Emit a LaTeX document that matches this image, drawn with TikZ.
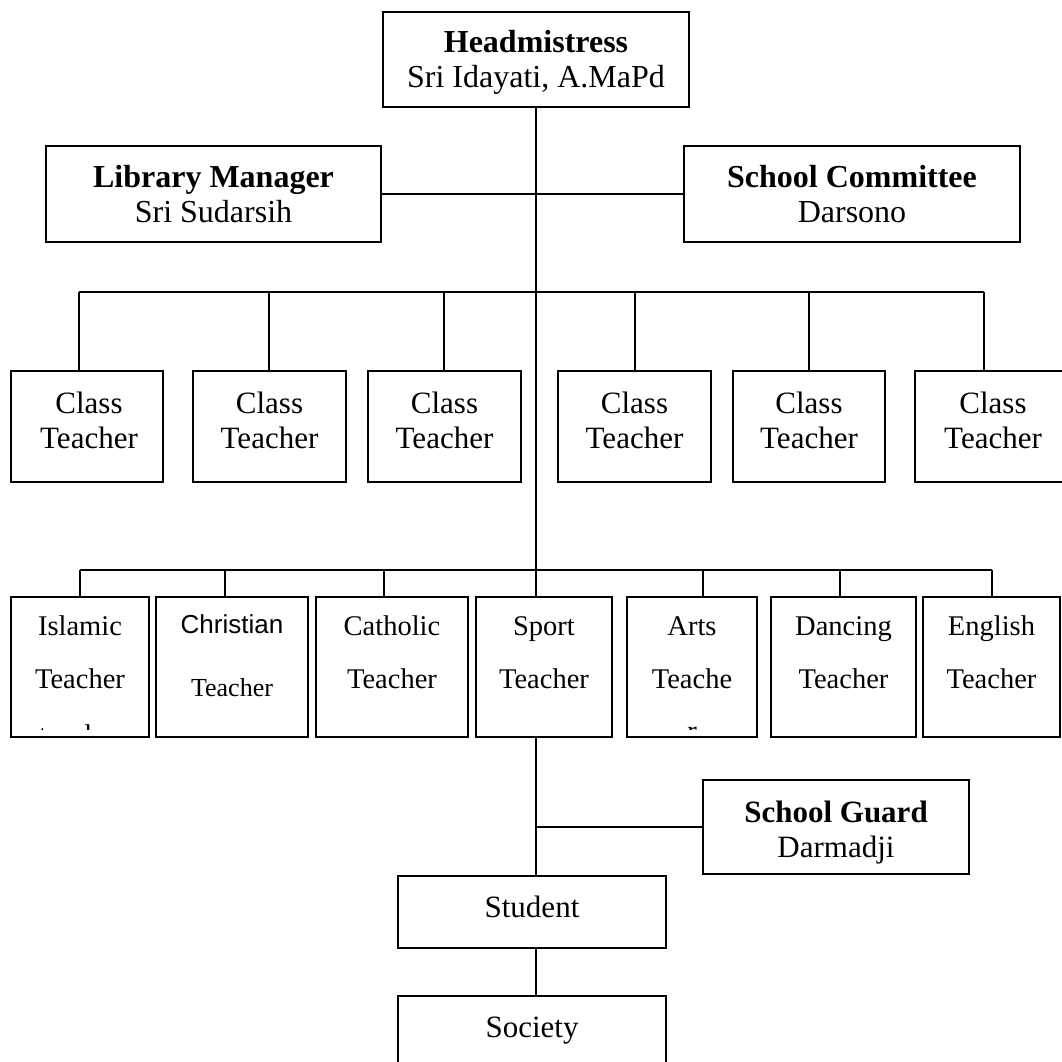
\documentclass[tikz,border=0pt]{standalone}
\usepackage{fontspec}
\setmainfont{Liberation Serif}
\newfontfamily\arialfont{Liberation Sans}
\begin{document}
\begin{tikzpicture}[x=1pt,y=-1pt,
  box/.style={draw,line width=1.6pt,inner sep=0pt,outer sep=0pt},
  conn/.style={draw,line width=1.3pt},
  tA/.style={anchor=base,inner sep=0pt,font=\fontsize{32}{38}\selectfont},
  tAb/.style={anchor=base,inner sep=0pt,font=\fontsize{32}{38}\selectfont\bfseries},
  tB/.style={anchor=base,inner sep=0pt,font=\fontsize{31}{37}\selectfont},
  tBb/.style={anchor=base,inner sep=0pt,font=\fontsize{31}{37}\selectfont\bfseries},
  tC/.style={anchor=base,inner sep=0pt,font=\fontsize{28.5}{34}\selectfont},
  tD/.style={anchor=base,inner sep=0pt,font=\fontsize{26}{31}\selectfont},
  tDs/.style={anchor=base,inner sep=0pt,font=\fontsize{26}{31}\selectfont\arialfont},
]
\useasboundingbox (0,0) rectangle (1062,1062);
\clip (0,0) rectangle (1062,1062);
\fill[white] (0,0) rectangle (1062,1062);

% boxes
\node[box,minimum width=306pt,minimum height=95pt] (head) at (536,59.5) {};
\node[box,minimum width=335pt,minimum height=96pt] (lib) at (213.5,194) {};
\node[box,minimum width=336pt,minimum height=96pt] (com) at (852,194) {};

\node[box,minimum width=152pt,minimum height=111pt] (c1) at (87,426.5) {};
\node[box,minimum width=153pt,minimum height=111pt] (c2) at (269.5,426.5) {};
\node[box,minimum width=153pt,minimum height=111pt] (c3) at (444.5,426.5) {};
\node[box,minimum width=153pt,minimum height=111pt] (c4) at (634.5,426.5) {};
\node[box,minimum width=152pt,minimum height=111pt] (c5) at (809,426.5) {};
\node[box,minimum width=156pt,minimum height=111pt] (c6) at (993,426.5) {};

\node[box,minimum width=138pt,minimum height=140pt] (r1) at (80,667) {};
\node[box,minimum width=152pt,minimum height=140pt] (r2) at (232,667) {};
\node[box,minimum width=152pt,minimum height=140pt] (r3) at (392,667) {};
\node[box,minimum width=136pt,minimum height=140pt] (r4) at (544,667) {};
\node[box,minimum width=130pt,minimum height=140pt] (r5) at (692,667) {};
\node[box,minimum width=145pt,minimum height=140pt] (r6) at (843.5,667) {};
\node[box,minimum width=137pt,minimum height=140pt] (r7) at (991.5,667) {};

\node[box,minimum width=266pt,minimum height=94pt] (guard) at (836,827) {};
\node[box,minimum width=268pt,minimum height=72pt] (stu) at (532,912) {};
\node[box,minimum width=268pt,minimum height=72pt] (soc) at (532,1032) {};

% connectors
\coordinate (mv) at (536,107);
\draw[conn] (mv) -- (mv |- r4.north);
\draw[conn] (lib.east) -- (com.west);

\coordinate (b1L) at (79,292);
\coordinate (b1R) at (984,292);
\coordinate (e2) at (269,292);
\coordinate (e3) at (444,292);
\coordinate (e4) at (635,292);
\coordinate (e5) at (809,292);
\draw[conn] (b1L) -- (b1R);
\draw[conn] (b1L) -- (b1L |- c1.north);
\draw[conn] (e2) -- (e2 |- c2.north);
\draw[conn] (e3) -- (e3 |- c3.north);
\draw[conn] (e4) -- (e4 |- c4.north);
\draw[conn] (e5) -- (e5 |- c5.north);
\draw[conn] (b1R) -- (b1R |- c6.north);

\coordinate (b2L) at (80,570);
\coordinate (b2R) at (992,570);
\coordinate (d2) at (225,570);
\coordinate (d3) at (384,570);
\coordinate (d5) at (703,570);
\coordinate (d6) at (840,570);
\draw[conn] (b2L) -- (b2R);
\draw[conn] (b2L) -- (b2L |- r1.north);
\draw[conn] (d2) -- (d2 |- r2.north);
\draw[conn] (d3) -- (d3 |- r3.north);
\draw[conn] (d5) -- (d5 |- r5.north);
\draw[conn] (d6) -- (d6 |- r6.north);
\draw[conn] (b2R) -- (b2R |- r7.north);

\draw[conn] (mv |- r4.south) -- (mv |- stu.north);
\draw[conn] (mv |- guard.west) -- (guard.west);
\draw[conn] (mv |- stu.south) -- (mv |- soc.north);

% texts
\node[tAb] (headT1) at (536,53) {Headmistress};
\node[tA] (headT2) at (536,88) {Sri Idayati, A.MaPd};
\node[tAb] (libT1) at (213.5,187.5) {Library Manager};
\node[tA] (libT2) at (213.5,222.5) {Sri Sudarsih};
\node[tAb] (comT1) at (852,187.5) {School Committee};
\node[tA] (comT2) at (852,222.5) {Darsono};

\foreach \b/\x in {c1/89,c2/269.5,c3/444.5,c4/634.5,c5/809,c6/993}{
  \node[tB] (\b T1) at (\x,413) {Class};
  \node[tB] (\b T2) at (\x,448) {Teacher};
}

\node[tC] (r1T1) at (80,635.5) {Islamic};
\node[tC] (r1T2) at (80,688.5) {Teacher};
\node[tDs] (r2T1) at (232,633.3) {Christian};
\node[tD] (r2T2) at (232,696.6) {Teacher};
\node[tC] (r3T1) at (392,635.5) {Catholic};
\node[tC] (r3T2) at (392,688.5) {Teacher};
\node[tC] (r4T1) at (544,635.5) {Sport};
\node[tC] (r4T2) at (544,688.5) {Teacher};
\node[tC] (r5T1) at (692,635.5) {Arts};
\node[tC] (r5T2) at (692,688.5) {Teache};
\node[tC] (r6T1) at (843.5,635.5) {Dancing};
\node[tC] (r6T2) at (843.5,688.5) {Teacher};
\node[tC] (r7T1) at (991.5,635.5) {English};
\node[tC] (r7T2) at (991.5,688.5) {Teacher};

\begin{scope}
  \clip (12,598) rectangle (148,729);
  \node[tC] (r1T3) at (80,744) {teacher};
\end{scope}
\begin{scope}
  \clip (628,598) rectangle (756,729);
  \node[tC] (r5T3) at (692,740) {r};
\end{scope}

\node[tBb] (guardT1) at (836,822) {School Guard};
\node[tB] (guardT2) at (836,857) {Darmadji};
\node[tB] (stuT) at (532,917) {Student};
\node[tB] (socT) at (532,1037) {Society};
\end{tikzpicture}
\end{document}
